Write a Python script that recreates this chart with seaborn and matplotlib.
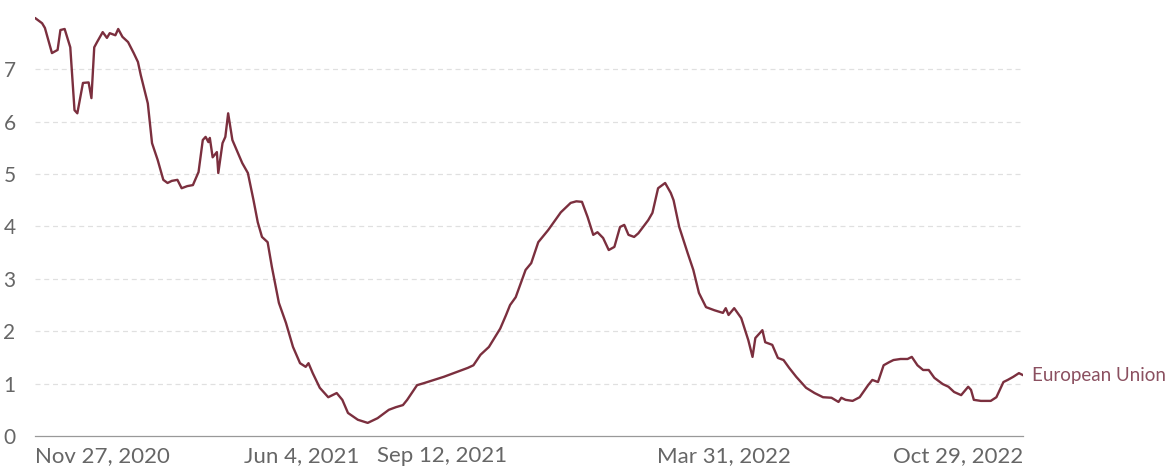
import datetime as dt

import matplotlib.pyplot as plt
import pandas as pd
import seaborn as sns

# days after Nov 27, 2020 and the value
day_offsets = [
    0, 5, 7, 12, 16, 18, 21, 25, 28, 30, 34, 38, 40, 42, 44, 48, 51, 53, 57, 59,
    62, 66, 70, 73, 75, 80, 83, 87, 91, 94, 97, 101, 104, 108, 112, 116, 119, 121,
    123, 124, 126, 129, 130, 133, 135, 137, 140, 143, 147, 151, 155, 158, 161, 165,
    168, 173, 178, 183, 188, 192, 194, 197, 202, 208, 214, 218, 222, 229, 236, 243,
    251, 256, 261, 264, 271, 276, 283, 290, 297, 307, 311, 316, 322, 330, 334, 337,
    341, 348, 352, 357, 364, 373, 380, 384, 388, 392, 396, 399, 403, 407, 411, 415,
    418, 421, 425, 428, 435, 438, 442, 445, 447, 451, 453, 457, 463, 467, 471, 476,
    482, 488, 490, 492, 496, 501, 506, 509, 511, 516, 518, 523, 527, 531, 535, 540,
    547, 553, 559, 565, 570, 572, 575, 580, 585, 591, 594, 598, 602, 606, 609, 614,
    619, 622, 626, 630, 634, 638, 644, 648, 652, 657, 662, 664, 666, 671, 678, 682,
    687, 690, 694, 698, 701,
]
values = [
    7.98, 7.88, 7.79, 7.31, 7.37, 7.75, 7.77, 7.42, 6.22, 6.16, 6.74, 6.75, 6.45, 7.42, 7.52, 7.71, 7.60, 7.69, 7.65, 7.77,
    7.62, 7.52, 7.31, 7.14, 6.89, 6.35, 5.59, 5.27, 4.89, 4.83, 4.87, 4.89, 4.73, 4.77, 4.79, 5.04, 5.65, 5.71,
    5.61, 5.69, 5.32, 5.42, 5.02, 5.59, 5.71, 6.16, 5.65, 5.46, 5.21, 5.02, 4.50, 4.08, 3.80, 3.70,
    3.23, 2.54, 2.16, 1.70, 1.39, 1.32, 1.39, 1.20, 0.92, 0.74, 0.82, 0.69, 0.44, 0.31, 0.25, 0.34,
    0.50, 0.55, 0.59, 0.69, 0.97, 1.01, 1.07, 1.13, 1.20, 1.30, 1.35, 1.55, 1.70, 2.05, 2.30, 2.50,
    2.65, 3.17, 3.30, 3.70, 3.93, 4.27, 4.45, 4.48, 4.47, 4.18, 3.84, 3.89, 3.78, 3.55, 3.61, 3.99,
    4.03, 3.84, 3.80, 3.87, 4.12, 4.26, 4.73, 4.79, 4.83, 4.64, 4.50, 3.99, 3.49, 3.17, 2.73, 2.46,
    2.40, 2.35, 2.44, 2.31, 2.44, 2.25, 1.83, 1.51, 1.87, 2.02, 1.79, 1.74, 1.49, 1.45, 1.30, 1.13,
    0.92, 0.82, 0.74, 0.73, 0.65, 0.73, 0.69, 0.67, 0.74, 0.97, 1.07, 1.03, 1.35, 1.41, 1.45, 1.47,
    1.47, 1.51, 1.35, 1.26, 1.26, 1.11, 0.99, 0.94, 0.84, 0.78, 0.94, 0.88, 0.69, 0.67, 0.67, 0.74,
    1.03, 1.07, 1.13, 1.20, 1.16,
]
start_date = dt.date(2020, 11, 27)
tick_dates = ["2020-11-27", "2021-06-04", "2021-09-12", "2022-03-31", "2022-10-29"]
tick_labels = ["Nov 27, 2020", "Jun 4, 2021", "Sep 12, 2021", "Mar 31, 2022", "Oct 29, 2022"]
y_ticks = [0, 1, 2, 3, 4, 5, 6, 7]
series_name = "European Union"

line_color = "#7b2f3e"
label_color = "#666666"

df = pd.DataFrame({
    "date": [pd.Timestamp(start_date) + pd.Timedelta(days=d) for d in day_offsets],
    "value": values,
})

sns.set_style("white")
plt.rcParams["font.family"] = ["Lato", "DejaVu Sans"]

fig = plt.figure(figsize=(11.68, 4.67), dpi=100)
ax = fig.add_axes([0.030, 0.0664, 0.846, 0.931])

sns.lineplot(data=df, x="date", y="value", color=line_color, linewidth=1.7, ax=ax)

x0 = pd.Timestamp(tick_dates[0])
x1 = pd.Timestamp(tick_dates[-1])
ax.set_xlim(x0, x1)
ax.set_ylim(0, 8.3)

ax.set_yticks(y_ticks)
ax.set_yticklabels([str(v) for v in y_ticks], fontsize=15, color=label_color)
for v in y_ticks[1:]:
    ax.axhline(v, color="#e0e0e0", linewidth=0.9, linestyle=(0, (4, 3)), zorder=0)

ax.set_xticks([pd.Timestamp(d) for d in tick_dates])
ax.set_xticklabels(tick_labels, fontsize=16, color=label_color)
for lbl, ha in zip(ax.get_xticklabels(), ["left", "center", "center", "center", "right"]):
    lbl.set_ha(ha)

ax.tick_params(axis="x", length=5, width=0.9, color="#999999", pad=2, direction="out")
ax.tick_params(axis="y", length=0, pad=14)

for side in ["top", "right", "left"]:
    ax.spines[side].set_visible(False)
ax.spines["bottom"].set_color("#999999")
ax.spines["bottom"].set_linewidth(0.9)

ax.set_xlabel("")
ax.set_ylabel("")

ax.text(x1 + pd.Timedelta(days=6), values[-1], series_name, color="#8b5060",
        fontsize=13.5, va="center", ha="left", clip_on=False)

fig.savefig("out.png", dpi=100)
